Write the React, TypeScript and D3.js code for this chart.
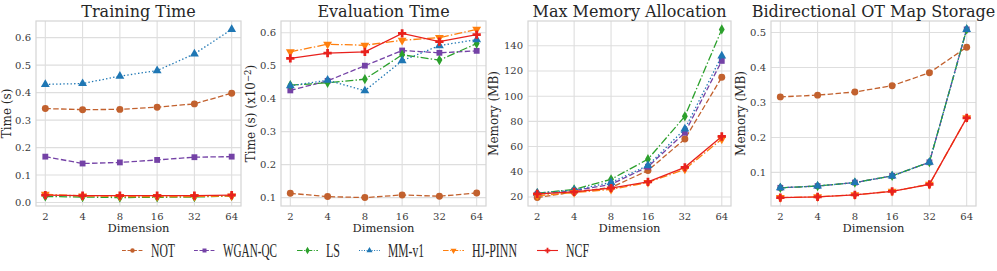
import * as d3 from "d3";

const dims = [2, 4, 8, 16, 32, 64];
const methods = ["NOT", "WGAN-QC", "LS", "MM-v1", "HJ-PINN", "NCF"];

// values per method, in the order of `methods`
const trainingTime = [
  [0.342, 0.338, 0.339, 0.347, 0.359, 0.398],
  [0.167, 0.142, 0.146, 0.155, 0.165, 0.167],
  [0.022, 0.020, 0.018, 0.019, 0.020, 0.024],
  [0.430, 0.433, 0.460, 0.480, 0.541, 0.630],
  [0.030, 0.024, 0.022, 0.022, 0.022, 0.024],
  [0.027, 0.025, 0.025, 0.025, 0.025, 0.027],
];
const evalTime = [
  [0.113, 0.103, 0.100, 0.108, 0.104, 0.114],
  [0.425, 0.454, 0.500, 0.546, 0.539, 0.545],
  [0.441, 0.448, 0.459, 0.533, 0.517, 0.567],
  [0.439, 0.456, 0.424, 0.515, 0.561, 0.579],
  [0.542, 0.565, 0.562, 0.577, 0.585, 0.610],
  [0.522, 0.538, 0.542, 0.598, 0.573, 0.594],
];
const maxMemory = [
  [19.5, 24, 27.5, 41, 66, 115],
  [22, 25, 30, 44, 71, 128],
  [23, 26, 34, 50, 84, 153],
  [23, 25.5, 31.5, 45, 74, 132],
  [21, 23.5, 26, 31.5, 42, 66],
  [22.5, 24, 27, 32, 43.5, 68],
];
const otStorage = [
  [0.316, 0.321, 0.330, 0.348, 0.385, 0.458],
  [0.056, 0.061, 0.071, 0.090, 0.129, 0.509],
  [0.056, 0.061, 0.071, 0.090, 0.129, 0.509],
  [0.056, 0.061, 0.071, 0.090, 0.129, 0.509],
  [0.028, 0.030, 0.036, 0.046, 0.066, 0.256],
  [0.028, 0.030, 0.036, 0.046, 0.066, 0.256],
];

const ticksTraining = [0, 0.1, 0.2, 0.3, 0.4, 0.5, 0.6];
const ticksEval = [0.1, 0.2, 0.3, 0.4, 0.5, 0.6];
const ticksMemory = [20, 40, 60, 80, 100, 120, 140];
const ticksStorage = [0.1, 0.2, 0.3, 0.4, 0.5];

const colors = ["#c2612e", "#7442a6", "#2ca02c", "#1f77b4", "#ff7f0e", "#e8211d"];
const dashes = ["5.5,2.4", "5.5,2.4", "8,2.2,1.4,2.2", "1.4,2.2", "8,2.2,1.4,2.2", null];
const symbols = [d3.symbolCircle, d3.symbolSquare, d3.symbolDiamond, d3.symbolTriangle, d3.symbolTriangle, d3.symbolCross];
const symRot = [0, 0, 0, 0, 180, 0];
const symSize = [38, 34, 30, 34, 34, 38];

const TOP = 21, BOTTOM = 206;
const panels = [
  { title: "Training Time", data: trainingTime, ticks: ticksTraining, fmt: d3.format(".1f"), left: 36, right: 241, ylab: "Time (s)", labX: 11 },
  { title: "Evaluation Time", data: evalTime, ticks: ticksEval, fmt: d3.format(".1f"), left: 281, right: 486, ylab: "eval", labX: 255 },
  { title: "Max Memory Allocation", data: maxMemory, ticks: ticksMemory, fmt: d3.format("d"), left: 528, right: 731, ylab: "Memory (MB)", labX: 498 },
  { title: "Bidirectional OT Map Storage", data: otStorage, ticks: ticksStorage, fmt: d3.format(".1f"), left: 771, right: 976, ylab: "Memory (MB)", labX: 745 },
];

const Panel = ({ p }: { p: any }) => {
  const lx = d3.extent(dims.map(Math.log2)) as [number, number];
  const mx = (lx[1] - lx[0]) * 0.05;
  const x = d3.scaleLinear().domain([lx[0] - mx, lx[1] + mx]).range([p.left, p.right]);
  const all = (p.data as number[][]).flat();
  const [lo, hi] = d3.extent(all) as [number, number];
  const my = (hi - lo) * 0.05;
  const y = d3.scaleLinear().domain([lo - my, hi + my]).range([BOTTOM, TOP]);
  const line = d3.line<number>().x((_v, i) => x(Math.log2(dims[i]))).y((v) => y(v));
  const cx = (p.left + p.right) / 2;
  const cy = (TOP + BOTTOM) / 2;
  return (
    <g>
      <rect x={p.left} y={TOP} width={p.right - p.left} height={BOTTOM - TOP} fill="#fff" />
      {dims.map((d) => (
        <line key={"gx" + d} x1={x(Math.log2(d))} x2={x(Math.log2(d))} y1={TOP} y2={BOTTOM} stroke="#dedede" strokeWidth={1.1} />
      ))}
      {p.ticks.map((t: number) => (
        <line key={"gy" + t} x1={p.left} x2={p.right} y1={y(t)} y2={y(t)} stroke="#dedede" strokeWidth={1.1} />
      ))}
      <rect x={p.left} y={TOP} width={p.right - p.left} height={BOTTOM - TOP} fill="none" stroke="#d4d4d4" strokeWidth={1.2} />
      {(p.data as number[][]).map((vals, k) => (
        <g key={methods[k]}>
          <path d={line(vals) || ""} fill="none" stroke={colors[k]} strokeWidth={1.3} strokeDasharray={dashes[k] || undefined} />
          {vals.map((v, i) => (
            <path key={i} d={d3.symbol(symbols[k], symSize[k])() || ""}
              transform={`translate(${x(Math.log2(dims[i]))},${y(v)}) rotate(${symRot[k]})`} fill={colors[k]} />
          ))}
        </g>
      ))}
      {dims.map((d) => (
        <text key={"tx" + d} x={x(Math.log2(d))} y={220} textAnchor="middle" fontSize={10} fill="#3a3a3a">{d}</text>
      ))}
      {p.ticks.map((t: number) => (
        <text key={"ty" + t} x={p.left - 5} y={y(t) + 3.5} textAnchor="end" fontSize={10} fill="#3a3a3a">{p.fmt(t)}</text>
      ))}
      <text x={cx} y={231.5} textAnchor="middle" fontSize={11.5} fill="#262626">Dimension</text>
      <text x={cx} y={17} textAnchor="middle" fontSize={16} fill="#262626">{p.title}</text>
      <text transform={`translate(${p.labX},${cy}) rotate(-90)`} textAnchor="middle" fontSize={12} fill="#262626">
        {p.ylab === "eval" ? (
          <>Time (s) (x10<tspan dy={-4} fontSize={8.5}>−2</tspan><tspan dy={4}>)</tspan></>
        ) : p.ylab}
      </text>
    </g>
  );
};

const legendLineX = [122, 194, 297, 359, 443, 537];
const legendTextW = [24, 54, 14, 36, 45, 23];

const Legend = () => (
  <g>
    {methods.map((m, k) => {
      const x0 = legendLineX[k];
      return (
        <g key={m}>
          <line x1={x0} x2={x0 + 21} y1={250.5} y2={250.5} stroke={colors[k]} strokeWidth={1.1} strokeDasharray={dashes[k] ? dashes[k]!.split(",").map((s) => +s * 0.7).join(",") : undefined} />
          <path d={d3.symbol(symbols[k], 16)() || ""} transform={`translate(${x0 + 10.5},250.5) rotate(${symRot[k]})`} fill={colors[k]} />
          <text x={x0 + 29} y={256.5} fontSize={18} fontFamily="'Liberation Serif', serif" fill="#262626" textLength={legendTextW[k]} lengthAdjust="spacingAndGlyphs">{m}</text>
        </g>
      );
    })}
  </g>
);

export default function App() {
  return (
    <div style={{ position: "fixed", left: 0, top: 0 }}>
      <svg width={997} height={271} style={{ display: "block", fontFamily: "'DejaVu Serif', serif", background: "#fff" }}>
        {panels.map((p) => <Panel key={p.title} p={p} />)}
        <Legend />
      </svg>
    </div>
  );
}
